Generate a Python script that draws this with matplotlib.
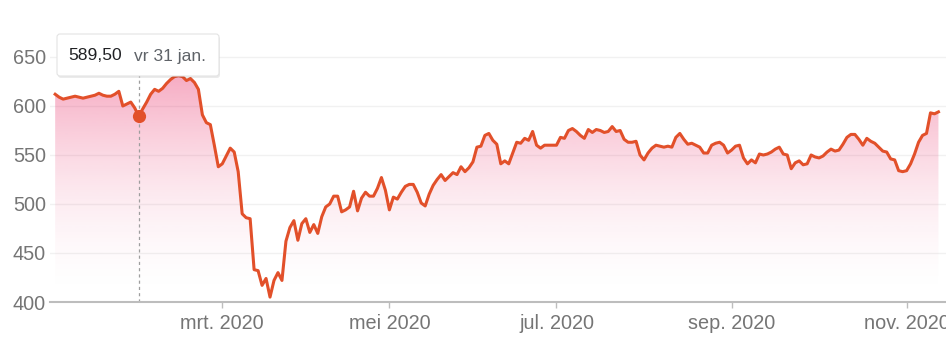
import numpy as np
import pandas as pd
import matplotlib
matplotlib.use("Agg")
import matplotlib.pyplot as plt
import matplotlib.transforms as mtransforms
from matplotlib.patches import FancyBboxPatch, Polygon

plt.rcParams['font.family'] = ['Liberation Sans', 'DejaVu Sans']

# ---- data: AEX closing values per trading day ----
jan = [612, 609, 607, 608, 609, 610, 609, 608, 609, 610, 611, 613, 611, 610, 610, 612,
       615, 600, 602, 604, 598, 589.5]
feb = [597, 604, 612, 617, 615, 618, 623, 627, 630, 631, 630, 626, 628, 624, 617, 591,
       583, 581, 560, 538]
mar = [541, 549, 557, 553, 533, 490, 486, 485, 433, 432, 417, 424, 405, 422, 430, 422,
       462, 476, 483, 463, 480, 485]
apr = [471, 479, 470, 487, 497, 500, 508, 508, 492, 494, 497, 513, 493, 506, 512, 508,
       508, 516, 527, 514]
may = [494, 507, 505, 512, 518, 520, 520, 512, 501, 498, 510, 519, 525, 530, 524, 528,
       532, 530, 538, 533]
jun = [537, 543, 558, 559, 570, 572, 565, 561, 541, 544, 541, 552, 563, 562, 567, 565,
       574, 560, 557, 560, 560, 560]
jul = [560, 568, 567, 575, 577, 574, 570, 567, 576, 573, 576, 575, 573, 574, 579, 574,
       575, 566, 563, 563, 564, 550, 545]
aug = [552, 557, 560, 559, 558, 559, 558, 568, 572, 566, 561, 562, 560, 558, 552, 552,
       560, 562, 563, 560, 552]
sep = [555, 559, 560, 547, 541, 545, 542, 551, 550, 551, 553, 556, 558, 551, 550, 536,
       542, 544, 540, 541, 550, 548]
oct_ = [547, 549, 553, 556, 554, 555, 561, 568, 571, 571, 566, 560, 567, 564, 562, 558,
        554, 553, 546, 545, 534, 533]
nov = [534, 541, 551, 563, 570, 572, 593, 592, 594]

holidays = ["2020-01-01", "2020-04-10", "2020-04-13", "2020-05-01"]
y_ticks = [400, 450, 500, 550, 600, 650]
x_tick_months = ["2020-03", "2020-05", "2020-07", "2020-09", "2020-11"]
x_tick_labels = ["mrt. 2020", "mei 2020", "jul. 2020", "sep. 2020", "nov. 2020"]
hover_date = "2020-01-31"
hover_value_label = "589,50"
hover_date_label = "vr 31 jan."

values = np.array(jan + feb + mar + apr + may + jun + jul + aug + sep + oct_ + nov, dtype=float)
dates = pd.bdate_range("2020-01-01", "2020-12-31", freq="C", holidays=holidays)[:len(values)]
x = np.arange(len(values))
month_str = dates.strftime("%Y-%m")
tick_pos = [int(np.argmax(month_str == m)) for m in x_tick_months]
hover_idx = int(np.argmax(dates == pd.Timestamp(hover_date)))

# ---- figure ----
W, H = 946, 342
fig = plt.figure(figsize=(W / 100, H / 100), dpi=100)
ax = fig.add_axes([50 / W, 40 / H, 896 / W, 262 / H])
ymin, ymax = 400, 400 + 262 / 0.98
line_color = "#e2502a"

# gradient fill under line
verts = np.vstack([np.column_stack([x, values]), [[x[-1], ymin], [x[0], ymin]]])
clip = Polygon(verts, closed=True, facecolor="none", edgecolor="none")
ax.add_patch(clip)
g = np.linspace(0, 1, 256).reshape(-1, 1)
img = np.zeros((256, 1, 4))
img[..., 0] = 233 / 255
img[..., 1] = 40 / 255
img[..., 2] = 100 / 255
img[..., 3] = 0.45 * g ** 1.8
im = ax.imshow(img, extent=[x[0], x[-1], ymin, 650], origin="lower",
               aspect="auto", zorder=1, interpolation="bilinear")
im.set_clip_path(clip)

# dashed hover line
ax.plot([hover_idx, hover_idx], [ymin, ymax], color="#9e9e9e", lw=0.9,
        dashes=(2.5, 2.5), zorder=2)

ax.plot(x, values, color=line_color, lw=2.2, zorder=3, solid_joinstyle="round")
ax.plot([hover_idx], [values[hover_idx]], "o", color=line_color, ms=9.5, zorder=4,
        markeredgewidth=0)

ax.set_xlim(-1.3, 223.9)
ax.set_ylim(ymin, ymax)

ax.set_yticks(y_ticks)
ax.yaxis.grid(True, color="#f1f1f1", lw=1)
ax.set_axisbelow(True)
ax.tick_params(axis="y", length=0, pad=3, labelsize=14.3, labelcolor="#757575")
ax.set_xticks(tick_pos)
ax.set_xticklabels(x_tick_labels)
ax.tick_params(axis="x", length=4.5, width=1, color="#bdbdbd", pad=4,
               labelsize=14.3, labelcolor="#757575")
for s in ["top", "right", "left"]:
    ax.spines[s].set_visible(False)
ax.spines["bottom"].set_color("#bdbdbd")
ax.spines["bottom"].set_linewidth(1.5)

# tooltip box (pixel coordinates, top-left origin converted)
ident = mtransforms.IdentityTransform()
bx0, by0, bx1, by1 = 57, 34, 219, 76
shadow = FancyBboxPatch((bx0 + 1, H - by1 - 2), bx1 - bx0, by1 - by0,
                        boxstyle="round,pad=0,rounding_size=3", transform=ident,
                        facecolor="#000000", alpha=0.08, edgecolor="none", zorder=9)
box = FancyBboxPatch((bx0, H - by1), bx1 - bx0, by1 - by0,
                     boxstyle="round,pad=0,rounding_size=3", transform=ident,
                     facecolor="white", edgecolor="#e3e3e3", lw=0.8, zorder=10)
fig.add_artist(shadow)
fig.add_artist(box)
fig.text(68, H - 56, hover_value_label, transform=ident, ha="left", va="center",
         fontsize=12.6, color="#202124", zorder=11)
fig.text(134, H - 56, hover_date_label, transform=ident, ha="left", va="center",
         fontsize=12.6, color="#5f6368", zorder=11)

fig.savefig("out.png", dpi=100)
